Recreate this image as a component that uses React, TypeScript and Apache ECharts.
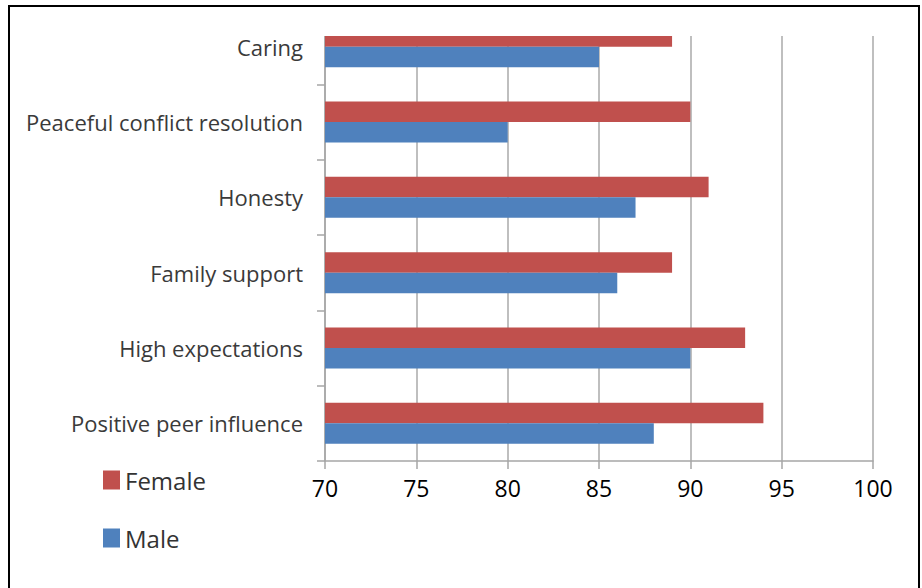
import React, { useEffect, useRef } from "react";
import * as echarts from "echarts";

const categories = [
  "Positive peer influence",
  "High expectations",
  "Family support",
  "Honesty",
  "Peaceful conflict resolution",
  "Caring",
];
const femaleValues = [94, 93, 89, 91, 90, 89];
const maleValues = [88, 90, 86, 87, 80, 85];
const seriesNames = ["Female", "Male"];
const xMin = 70;
const xMax = 100;
const xStep = 5;

const FONT = "'Open Sans', 'Noto Sans', sans-serif";

export default function App() {
  const ref = useRef<HTMLDivElement>(null);
  useEffect(() => {
    if (!ref.current) return;
    const chart = echarts.init(ref.current, null, { renderer: "svg" });
    chart.setOption({
      animation: false,
      backgroundColor: "#ffffff",
      grid: { left: 325, right: 49, top: 9, bottom: 127, containLabel: false },
      legend: {
        data: seriesNames,
        orient: "vertical",
        left: 103,
        top: 468,
        padding: 0,
        icon: "rect",
        itemWidth: 17,
        itemHeight: 19,
        itemGap: 34,
        textStyle: { fontSize: 24, color: "#333333", fontFamily: FONT },
      },
      xAxis: {
        type: "value",
        min: xMin,
        max: xMax,
        interval: xStep,
        axisLine: { show: true, lineStyle: { color: "#a6a6a6", width: 1.5 } },
        axisTick: { show: true, length: 8, lineStyle: { color: "#a6a6a6", width: 1.5 } },
        axisLabel: { fontSize: 23, color: "#000000", margin: 15, fontFamily: FONT },
        splitLine: { show: true, lineStyle: { color: "#bfbfbf", width: 2 } },
      },
      yAxis: {
        type: "category",
        data: categories,
        axisLine: { show: true, lineStyle: { color: "#a6a6a6", width: 1.5 } },
        axisTick: { show: true, length: 8, lineStyle: { color: "#a6a6a6", width: 1.5 } },
        axisLabel: { fontSize: 22, color: "#3a3a3a", margin: 22, fontFamily: FONT },
        splitLine: { show: false },
      },
      series: [
        {
          name: seriesNames[0],
          type: "bar",
          data: femaleValues,
          barWidth: 20.5,
          barGap: "0%",
          itemStyle: { color: "#C0504D" },
        },
        {
          name: seriesNames[1],
          type: "bar",
          data: maleValues,
          barWidth: 20.5,
          barGap: "0%",
          itemStyle: { color: "#4F81BD" },
        },
      ],
      graphic: [
        {
          type: "rect",
          z: 100,
          shape: { x: 300, y: 7, width: 600, height: 29 },
          style: { fill: "#ffffff" },
        },
        {
          type: "rect",
          z: 101,
          shape: { x: 9, y: 6, width: 910, height: 620 },
          style: { fill: "none", stroke: "#000000", lineWidth: 2 },
        },
      ],
    });
    return () => chart.dispose();
  }, []);
  return (
    <div
      ref={ref}
      style={{ position: "fixed", left: 0, top: 0, width: 922, height: 588 }}
    />
  );
}
